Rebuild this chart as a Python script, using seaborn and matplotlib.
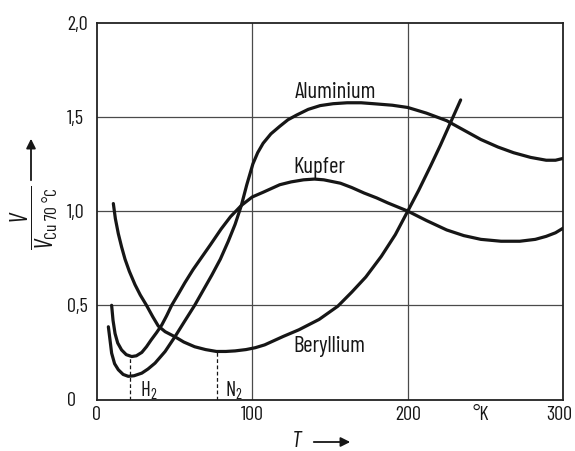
import numpy as np
import pandas as pd
import matplotlib
matplotlib.use("Agg")
import matplotlib.pyplot as plt
import matplotlib.transforms as mtransforms
import seaborn as sns
from matplotlib import font_manager as fm

# ---------------- data ----------------
al_T = [7.5, 8.5, 9.6, 11.5, 13.9, 17, 20.3, 24, 29, 33, 37.5, 44, 50.3, 56.5, 63, 68.5,
        74, 79.5, 84.6, 89, 93, 96.5, 100.4, 103.5, 107, 112, 117.7, 123, 128.6, 136,
        143.7, 152, 161, 170, 178, 190, 200, 212, 225, 236, 247, 258, 268, 279, 289, 295, 300]
al_V = [0.386, 0.32, 0.246, 0.19, 0.158, 0.133, 0.123, 0.126, 0.14, 0.162, 0.193, 0.255, 0.333,
        0.415, 0.5, 0.58, 0.66, 0.745, 0.84, 0.93, 1.03, 1.14, 1.25, 1.31, 1.36, 1.41, 1.45,
        1.485, 1.51, 1.54, 1.56, 1.57, 1.575, 1.575, 1.57, 1.562, 1.55, 1.52, 1.48, 1.43,
        1.38, 1.34, 1.31, 1.285, 1.27, 1.27, 1.28]

cu_T = [9.6, 10.5, 11.8, 13.5, 16, 19, 22.5, 25.5, 29, 32, 35, 38.5, 41.8, 45, 48.2, 52.5,
        56.7, 62, 67.5, 73, 80, 86, 93, 100, 107, 117.7, 125, 133, 140, 146, 156.7, 164,
        171.9, 180, 187, 200, 212, 225, 236, 247, 260, 272, 282, 289, 295, 300]
cu_V = [0.5, 0.42, 0.35, 0.30, 0.263, 0.238, 0.228, 0.232, 0.25, 0.28, 0.316, 0.355, 0.395,
        0.445, 0.5, 0.56, 0.62, 0.69, 0.755, 0.82, 0.905, 0.97, 1.03, 1.075, 1.10, 1.14,
        1.155, 1.166, 1.17, 1.166, 1.148, 1.125, 1.096, 1.07, 1.044, 1.0, 0.95, 0.90, 0.87,
        0.85, 0.84, 0.84, 0.85, 0.866, 0.885, 0.91]

be_T = [10.7, 12, 13.9, 16, 18.2, 21, 24.6, 28, 32, 36, 39.6, 44, 50.3, 56, 63, 70, 77, 83,
        89, 96, 102, 108, 120, 130, 143, 155, 164, 173, 183, 192, 200, 207, 214.7, 221,
        227.5, 234]
be_V = [1.04, 0.96, 0.88, 0.81, 0.745, 0.68, 0.61, 0.555, 0.50, 0.44, 0.39, 0.36, 0.333,
        0.305, 0.28, 0.265, 0.255, 0.255, 0.258, 0.265, 0.275, 0.29, 0.335, 0.37, 0.425,
        0.495, 0.57, 0.65, 0.76, 0.875, 1.0, 1.11, 1.24, 1.35, 1.47, 1.59]

series_names = ["Aluminium", "Kupfer", "Beryllium"]
label_T = [127.0, 126.5, 126.5]
label_V = [1.600, 1.202, 0.251]

marker_T = [21.5, 77.5]          # H2 and N2 boiling points
marker_V = [0.225, 0.255]
marker_labels = ["H$_2$", "N$_2$"]
marker_label_T = [28.0, 82.5]

xticks = [0, 100, 200, 247, 300]
xticklabels = ["0", "100", "200", "°K", "300"]
yticks = [0, 0.5, 1.0, 1.5, 2.0]
yticklabels = ["0", "0,5", "1,0", "1,5", "2,0"]

# ---------------- fonts ----------------
sns.set_style("white")
names = {f.name for f in fm.fontManager.ttflist}
FONT = "DejaVu Sans"
for cand in ["Barlow Condensed", "Barlow Semi Condensed", "Fira Sans Condensed",
             "Archivo Narrow", "Asap Condensed", "Liberation Sans Narrow"]:
    if cand in names:
        FONT = cand
        break
plt.rcParams["font.family"] = [FONT, "DejaVu Sans"]
plt.rcParams["mathtext.fontset"] = "custom"
plt.rcParams["mathtext.rm"] = FONT
plt.rcParams["mathtext.it"] = FONT + ":italic"
plt.rcParams["mathtext.sf"] = FONT

INK = "#161616"

df = pd.concat([
    pd.DataFrame({"T": al_T, "V": al_V, "Werkstoff": "Aluminium"}),
    pd.DataFrame({"T": cu_T, "V": cu_V, "Werkstoff": "Kupfer"}),
    pd.DataFrame({"T": be_T, "V": be_V, "Werkstoff": "Beryllium"}),
], ignore_index=True)

W, H = 575, 451
fig = plt.figure(figsize=(W / 100, H / 100), dpi=100)
ax = fig.add_axes([96.7 / W, 1 - 399.5 / H, (563.3 - 96.7) / W, (399.5 - 22.7) / H])

# grid
for x in (100, 200):
    ax.axvline(x, color="#4a4a4a", lw=0.9, zorder=1)
for y in (0.5, 1.0, 1.5):
    ax.axhline(y, color="#4a4a4a", lw=0.9, zorder=1)

sns.lineplot(data=df, x="T", y="V", hue="Werkstoff", palette=[INK] * 3,
             estimator=None, sort=False, legend=False, lw=2.3, ax=ax, zorder=3)

# dashed markers
for t, v in zip(marker_T, marker_V):
    ax.plot([t, t], [0, v], color=INK, lw=0.9, ls=(0, (3, 2)), zorder=2)
for t, s in zip(marker_label_T, marker_labels):
    ax.text(t, 0.045, s, fontsize=15, color=INK, ha="left", va="center")

for name, t, v in zip(series_names, label_T, label_V):
    ax.text(t, v, name, fontsize=16.5, color=INK, ha="left", va="baseline")

ax.set_xlim(0, 300)
ax.set_ylim(0, 2.0)
ax.set_xticks(xticks, labels=xticklabels)
ax.set_yticks(yticks, labels=yticklabels)
ax.tick_params(axis="both", length=0, labelsize=14.5, colors=INK)
ax.tick_params(axis="x", pad=5)
ax.tick_params(axis="y", pad=21.4)
for lab in ax.get_yticklabels():
    lab.set_horizontalalignment("left")
# the last x label sits slightly left of its tick, as in the reference
last = ax.get_xticklabels()[-1]
last.set_transform(last.get_transform() +
                   mtransforms.ScaledTranslation(-4 / 100, 0, fig.dpi_scale_trans))
ax.set_xlabel("")
ax.set_ylabel("")
for sp in ax.spines.values():
    sp.set_visible(True)
    sp.set_color("#222222")
    sp.set_linewidth(1.3)

# y-axis label (fraction) and arrow
fig.text(34 / W, 1 - 218 / H, r"$\dfrac{V}{V_{\mathrm{Cu\ 70\ °C}}}$", rotation=90,
         fontsize=18, color=INK, ha="center", va="center")
ax.annotate("", xy=(31, H - 136), xytext=(31, H - 183), xycoords="figure pixels",
            textcoords="figure pixels",
            arrowprops=dict(arrowstyle="-|>", color=INK, lw=1.3, mutation_scale=14))

# x-axis label and arrow
fig.text(296.7 / W, 1 - 441.7 / H, "T", style="italic", fontsize=17, color=INK,
         ha="center", va="center")
ax.annotate("", xy=(353, H - 442), xytext=(311, H - 442), xycoords="figure pixels",
            textcoords="figure pixels",
            arrowprops=dict(arrowstyle="-|>", color=INK, lw=1.3, mutation_scale=14))

fig.savefig("out.png", dpi=100, facecolor="white")
